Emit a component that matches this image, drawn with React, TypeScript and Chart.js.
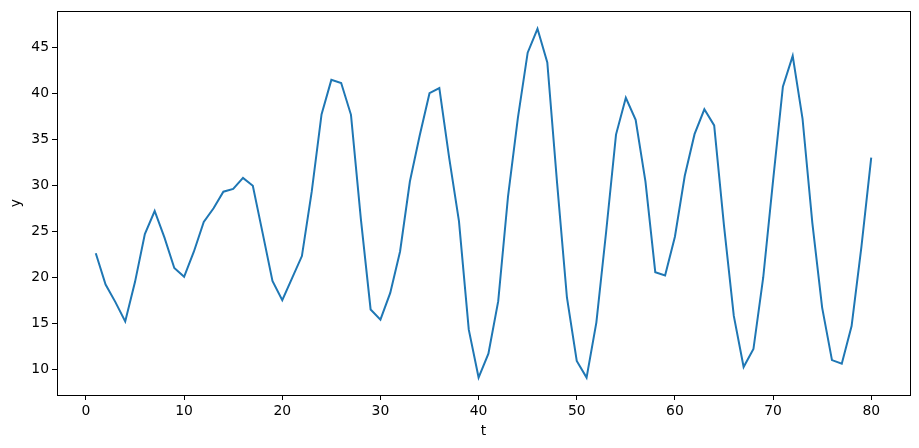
import React, { useEffect, useRef } from "react";
import { Chart, registerables } from "chart.js";

Chart.register(...registerables);

const tValues: number[] = Array.from({ length: 80 }, (_, i) => i + 1);
const yValues: number[] = [
  22.6, 19.2, 17.3, 15.2, 19.5, 24.7, 27.2, 24.3, 21.0, 20.05,
  22.8, 26.0, 27.5, 29.3, 29.6, 30.8, 29.95, 24.8, 19.6, 17.5,
  19.9, 22.3, 29.3, 37.7, 41.45, 41.1, 37.65, 26.4, 16.5, 15.4,
  18.3, 22.8, 30.4, 35.4, 40.0, 40.55, 33.0, 26.1, 14.3, 9.1,
  11.7, 17.4, 28.8, 37.3, 44.4, 47.0, 43.35, 30.2, 17.8, 10.9,
  9.1, 15.1, 25.0, 35.5, 39.5, 37.1, 30.4, 20.55, 20.2, 24.4,
  31.0, 35.55, 38.25, 36.5, 25.6, 15.8, 10.25, 12.2, 20.0, 30.5,
  40.7, 44.05, 37.25, 25.9, 16.7, 11.0, 10.6, 14.7, 23.3, 33.0,
];
const xTicks: number[] = [0, 10, 20, 30, 40, 50, 60, 70, 80];
const yTicks: number[] = [10, 15, 20, 25, 30, 35, 40, 45];
const xLabel = "t";
const yLabel = "y";

const W = 919;
const H = 448;
const FONT = "'DejaVu Sans', sans-serif";

function margins(vals: number[]) {
  const mn = Math.min(...vals);
  const mx = Math.max(...vals);
  const pad = (mx - mn) * 0.05;
  return [mn - pad, mx + pad];
}

const framePlugin = {
  id: "frame",
  afterDraw(chart: any) {
    const { ctx, chartArea } = chart;
    ctx.save();
    ctx.strokeStyle = "#000";
    ctx.lineWidth = 1;
    ctx.strokeRect(
      Math.round(chartArea.left) + 0.5,
      Math.round(chartArea.top) + 0.5,
      Math.round(chartArea.right - chartArea.left),
      Math.round(chartArea.bottom - chartArea.top)
    );
    ctx.restore();
  },
};

export default function App() {
  const ref = useRef<HTMLCanvasElement | null>(null);

  useEffect(() => {
    document.body.style.margin = "0";
    const canvas = ref.current;
    if (!canvas) return;
    const [xmin, xmax] = margins(tValues);
    const [ymin, ymax] = margins(yValues);
    const chart = new Chart(canvas, {
      type: "line",
      data: {
        datasets: [
          {
            data: tValues.map((t, i) => ({ x: t, y: yValues[i] })),
            borderColor: "#1f77b4",
            backgroundColor: "#1f77b4",
            borderWidth: 2,
            pointRadius: 0,
            tension: 0,
            fill: false,
          },
        ],
      },
      options: {
        responsive: false,
        animation: false,
        layout: { padding: { left: 0, right: 9, top: 10, bottom: 0 } },
        plugins: {
          legend: { display: false },
          tooltip: { enabled: false },
        },
        scales: {
          x: {
            type: "linear",
            min: xmin,
            max: xmax,
            afterBuildTicks: (s: any) => {
              s.ticks = xTicks.map((v) => ({ value: v }));
            },
            afterFit: (s: any) => {
              s.height = 53;
            },
            grid: {
              display: true,
              drawOnChartArea: false,
              drawTicks: true,
              tickLength: 5,
              color: "#000",
            },
            border: { display: false },
            ticks: {
              color: "#000",
              padding: 3,
              maxRotation: 0,
              font: { family: FONT, size: 13.9 },
              callback: (v: any) => String(v),
            },
            title: {
              display: true,
              text: xLabel,
              color: "#000",
              padding: { top: 0, bottom: 8 },
              font: { family: FONT, size: 13.9 },
            },
          },
          y: {
            type: "linear",
            min: ymin,
            max: ymax,
            afterBuildTicks: (s: any) => {
              s.ticks = yTicks.map((v) => ({ value: v }));
            },
            afterFit: (s: any) => {
              s.width = 57;
            },
            grid: {
              display: true,
              drawOnChartArea: false,
              drawTicks: true,
              tickLength: 5,
              color: "#000",
            },
            border: { display: false },
            ticks: {
              color: "#000",
              padding: 3,
              font: { family: FONT, size: 13.9 },
              callback: (v: any) => String(v),
            },
            title: {
              display: true,
              text: yLabel,
              color: "#000",
              padding: { top: 8, bottom: 0 },
              font: { family: FONT, size: 13.9 },
            },
          },
        },
      },
      plugins: [framePlugin],
    });
    return () => chart.destroy();
  }, []);

  return (
    <div style={{ position: "absolute", left: 0, top: 0, width: W, height: H, background: "#fff" }}>
      <canvas ref={ref} width={W} height={H} style={{ width: W, height: H, display: "block" }} />
    </div>
  );
}
